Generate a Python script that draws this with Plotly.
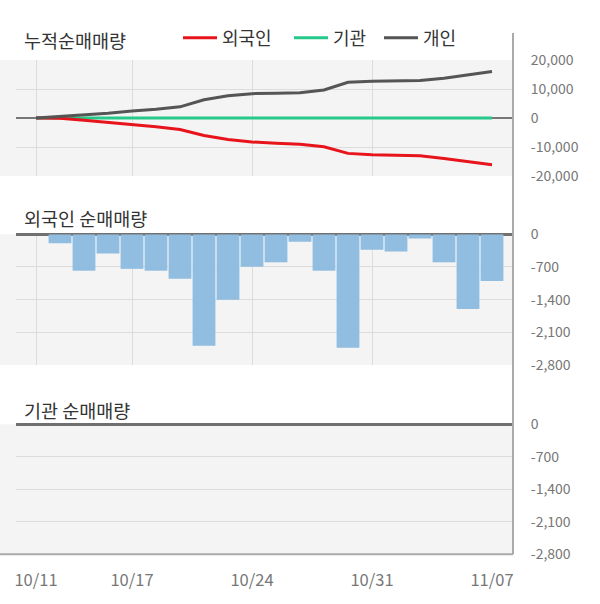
import plotly.graph_objects as go

# ---------------- data ----------------
dates = ['10/11', '10/14', '10/15', '10/16', '10/17', '10/18', '10/21', '10/22', '10/23', '10/24',
         '10/25', '10/28', '10/29', '10/30', '10/31', '11/01', '11/04', '11/05', '11/06', '11/07']

foreign_cum = [0, -100, -800, -1500, -2200, -3000, -3950, -6050, -7450, -8250,
               -8700, -9070, -9900, -12200, -12700, -12900, -13000, -13950, -15100, -16150]
inst_cum = [0, 0, 0, 0, 0, 0, 0, 0, 0, 0, 0, 0, 0, 0, 0, 0, 0, 0, 0, 0]
indiv_cum = [0, 500, 930, 1600, 2440, 3000, 3840, 6300, 7700, 8400,
             8500, 8700, 9650, 12300, 12700, 12900, 12900, 13700, 15000, 16050]

foreign_daily = [0, -190, -780, -410, -740, -780, -950, -2390, -1400, -695,
                 -600, -160, -780, -2430, -330, -370, -90, -600, -1600, -1000]
inst_daily = [0, 0, 0, 0, 0, 0, 0, 0, 0, 0, 0, 0, 0, 0, 0, 0, 0, 0, 0, 0]

tick_dates = ['10/11', '10/17', '10/24', '10/31', '11/07']
grid_dates = ['10/11', '10/17', '10/24', '10/31']

cum_ticks = [20000, 10000, 0, -10000, -20000]
cum_ticktext = ['20,000', '10,000', '0', '-10,000', '-20,000']
daily_ticks = [0, -700, -1400, -2100, -2800]
daily_ticktext = ['0', '-700', '-1,400', '-2,100', '-2,800']

series_names = ['외국인', '기관', '개인']
titles = ['누적순매매량', '외국인 순매매량', '기관 순매매량']

# ---------------- style ----------------
W, H = 600, 604
ML, MR = 16, 87
PW = W - ML - MR
FONT = 'Noto Sans CJK KR'
RED = '#e8141c'
GREEN = '#27c98a'
GRAY = '#555555'
BAR = '#90bde0'
BG = '#f4f4f4'
GRID = '#dcdcdc'
TICK = '#777777'


def py(px):
    return 1 - px / H


def pxp(px):
    return (px - ML) / PW


panels = [(60, 176), (234.3, 365), (424.3, 554.3)]
doms = [[py(b), py(t)] for t, b in panels]
xr = [-0.8333, 19.875]

fig = go.Figure()

# cumulative lines (green drawn first so red/gray sit on top)
fig.add_trace(go.Scatter(x=dates, y=inst_cum, name=series_names[1], mode='lines',
                         line=dict(color=GREEN, width=3), xaxis='x', yaxis='y',
                         legendrank=2, legendwidth=41))
fig.add_trace(go.Scatter(x=dates, y=foreign_cum, name=series_names[0], mode='lines',
                         line=dict(color=RED, width=3), xaxis='x', yaxis='y',
                         legendrank=1, legendwidth=62))
fig.add_trace(go.Scatter(x=dates, y=indiv_cum, name=series_names[2], mode='lines',
                         line=dict(color=GRAY, width=3), xaxis='x', yaxis='y',
                         legendrank=3, legendwidth=45))

fig.add_trace(go.Bar(x=dates, y=foreign_daily, marker=dict(color=BAR, line=dict(width=0)),
                     showlegend=False, xaxis='x2', yaxis='y2', hoverinfo='x+y'))
fig.add_trace(go.Bar(x=dates, y=inst_daily, marker=dict(color=BAR, line=dict(width=0)),
                     showlegend=False, xaxis='x4', yaxis='y3', hoverinfo='x+y'))

xcommon = dict(type='category', categoryorder='array', categoryarray=dates, range=xr,
               tickmode='array', tickvals=grid_dates, showticklabels=False,
               showgrid=True, gridcolor=GRID, gridwidth=1, zeroline=False, showline=False,
               ticks='', automargin=False, fixedrange=True)

ycommon = dict(side='right', tickmode='array', showgrid=True, gridcolor=GRID, gridwidth=1,
               zeroline=True, showline=False, ticks='outside', ticklen=14,
               tickcolor='rgba(0,0,0,0)', tickfont=dict(family=FONT, size=14, color=TICK),
               automargin=False, fixedrange=True)

fig.update_layout(
    width=W, height=H,
    margin=dict(l=ML, r=MR, t=0, b=0, pad=0),
    paper_bgcolor='white', plot_bgcolor='rgba(0,0,0,0)',
    font=dict(family=FONT, color='#333333'),
    bargap=0.05,
    xaxis=dict(xcommon, domain=[0, 1], anchor='y'),
    xaxis2=dict(xcommon, domain=[0, 1], anchor='y2'),
    xaxis3=dict(xcommon, domain=[0, 1], anchor='y3'),
    xaxis4=dict(type='category', categoryorder='array', categoryarray=dates, range=xr,
                overlaying='x3', anchor='y3', side='bottom',
                tickmode='array', tickvals=tick_dates, ticktext=tick_dates,
                showgrid=False, zeroline=False, showline=False,
                ticks='outside', ticklen=11, tickcolor='rgba(0,0,0,0)',
                tickfont=dict(family=FONT, size=16.5, color=TICK), automargin=False,
                fixedrange=True),
    yaxis=dict(ycommon, domain=doms[0], anchor='x', range=[-20000, 20000],
               tickvals=cum_ticks, ticktext=cum_ticktext,
               zerolinecolor='#777777', zerolinewidth=1.5),
    yaxis2=dict(ycommon, domain=doms[1], anchor='x2', range=[-2800, 0],
                tickvals=daily_ticks, ticktext=daily_ticktext,
                zerolinecolor='#707070', zerolinewidth=2.5),
    yaxis3=dict(ycommon, domain=doms[2], anchor='x3', range=[-2800, 0],
                tickvals=daily_ticks, ticktext=daily_ticktext,
                zerolinecolor='#707070', zerolinewidth=2.5),
    legend=dict(orientation='h', x=pxp(178), xanchor='left', y=py(38), yanchor='middle',
                font=dict(family=FONT, size=18, color='#333333'), bgcolor='rgba(0,0,0,0)',
                itemwidth=34, tracegroupgap=0),
    showlegend=True,
)

shapes = []
# panel backgrounds extending to the left edge
for t, b in panels:
    shapes.append(dict(type='rect', xref='paper', yref='paper', x0=pxp(0), x1=1,
                       y0=py(b), y1=py(t), fillcolor=BG, line=dict(width=0), layer='below'))
# right axis line
shapes.append(dict(type='line', xref='paper', yref='paper', x0=1, x1=1, y0=py(554.3), y1=py(33),
                   line=dict(color='#aaaaaa', width=2), layer='above'))
# bottom border
shapes.append(dict(type='line', xref='paper', yref='paper', x0=pxp(0), x1=1, y0=py(554.3), y1=py(554.3),
                   line=dict(color='#aaaaaa', width=2), layer='above'))
fig.update_layout(shapes=shapes)

title_y = [40, 218, 410]
for txt, ty in zip(titles, title_y):
    fig.add_annotation(text=txt, xref='paper', yref='paper', x=pxp(22), y=py(ty),
                       xanchor='left', yanchor='middle', showarrow=False,
                       font=dict(family=FONT, size=18.5, color='#333333'))

fig.write_html('out.html', config={'displayModeBar': False},
               post_script="document.body.style.margin='0px';")
